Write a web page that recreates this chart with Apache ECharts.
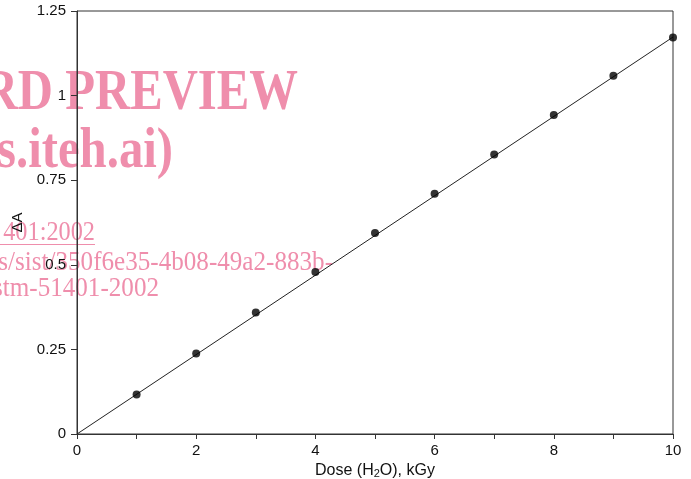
<!DOCTYPE html>
<html>
<head>
<meta charset="utf-8">
<script src="https://cdn.jsdelivr.net/npm/echarts@6/dist/echarts.min.js"></script>
<style>
  html, body { margin: 0; padding: 0; background: #ffffff; }
  #chart { width: 691px; height: 479px; }
</style>
</head>
<body>
<div id="chart"></div>
<script>
// Absorbance change vs absorbed dose in water
const doses = [1, 2, 3, 4, 5, 6, 7, 8, 9, 10];
const deltaA = [0.117, 0.238, 0.359, 0.479, 0.594, 0.710, 0.826, 0.943, 1.059, 1.172];
// Calibration line endpoints
const fitDose = [0, 10];
const fitDeltaA = [0, 1.173];
// Axis ticks
const yTicks = [0, 0.25, 0.5, 0.75, 1, 1.25];
const xLabelled = [0, 2, 4, 6, 8, 10];

// Document watermark lines (baseline y, right edge x)
const stampLines = [
  { text: 'RD PREVIEW', right: 298, base: 110, size: 56, bold: true, sx: 0.87 },
  { text: 's.iteh.ai)', right: 173, base: 168, size: 56, bold: true, sx: 0.87 },
  { text: '401:2002', right: 95, base: 240, size: 27, bold: false, sx: 0.9 },
  { text: 's/sist/350f6e35-4b08-49a2-883b-', right: 333, base: 270, size: 27, bold: false, sx: 0.93 },
  { text: 'stm-51401-2002', right: 159, base: 296, size: 27, bold: false, sx: 0.93 }
];

const pink = '#ef8eac';
const ink = '#111111';
const sans = '"Liberation Sans", Arial, sans-serif';

const stampGraphics = stampLines.map(l => ({
  type: 'text',
  x: l.right,
  y: l.base + Math.round(l.size * 0.23),
  scaleX: l.sx,
  z: -10,
  silent: true,
  style: {
    text: l.text,
    fill: pink,
    font: (l.bold ? 'bold ' : '') + l.size + 'px "Liberation Serif", "Times New Roman", serif',
    align: 'right',
    verticalAlign: 'bottom'
  }
}));
stampGraphics.push({
  type: 'line',
  z: -10,
  silent: true,
  shape: { x1: 0, y1: 244.5, x2: 95, y2: 244.5 },
  style: { stroke: pink, lineWidth: 1.2 }
});

const chart = echarts.init(document.getElementById('chart'), null, { renderer: 'canvas' });
chart.setOption({
  animation: false,
  backgroundColor: '#ffffff',
  grid: {
    left: 77, right: 18, top: 11, bottom: 45,
    containLabel: false,
    outerBoundsMode: 'none',
    show: true, borderColor: '#333', borderWidth: 1, backgroundColor: 'transparent'
  },
  graphic: stampGraphics,
  xAxis: {
    type: 'value',
    min: 0, max: 10, interval: 1,
    name: 'Dose (H{sub|2}O), kGy',
    nameLocation: 'middle',
    nameGap: 20,
    nameTextStyle: {
      color: ink, fontFamily: sans, fontSize: 16,
      rich: { sub: { fontSize: 11, verticalAlign: 'bottom', padding: [6, 0, 0, 0], fontFamily: sans, color: ink } }
    },
    axisLine: { show: true, onZero: false, lineStyle: { color: '#333', width: 1 } },
    axisTick: { show: true, length: 5, lineStyle: { color: '#333' } },
    axisLabel: {
      color: ink, fontFamily: sans, fontSize: 15, margin: 9,
      formatter: v => (xLabelled.includes(v) ? String(v) : '')
    },
    splitLine: { show: false }
  },
  yAxis: {
    type: 'value',
    min: 0, max: 1.25, interval: 0.25,
    name: 'ΔA',
    nameLocation: 'middle',
    nameGap: 52,
    nameTextStyle: { color: ink, fontFamily: sans, fontSize: 15 },
    axisLine: { show: true, onZero: false, lineStyle: { color: '#333', width: 1 } },
    axisTick: { show: true, length: 6, lineStyle: { color: '#333' } },
    axisLabel: {
      color: ink, fontFamily: sans, fontSize: 15, margin: 11,
      formatter: v => (yTicks.includes(v) ? String(v) : '')
    },
    splitLine: { show: false }
  },
  series: [
    {
      type: 'line',
      data: fitDose.map((d, i) => [d, fitDeltaA[i]]),
      symbol: 'none',
      lineStyle: { color: '#222', width: 1 },
      z: 2
    },
    {
      type: 'scatter',
      data: doses.map((d, i) => [d, deltaA[i]]),
      symbol: 'circle',
      symbolSize: 8,
      itemStyle: { color: '#000' },
      z: 3
    }
  ]
});
</script>
</body>
</html>
